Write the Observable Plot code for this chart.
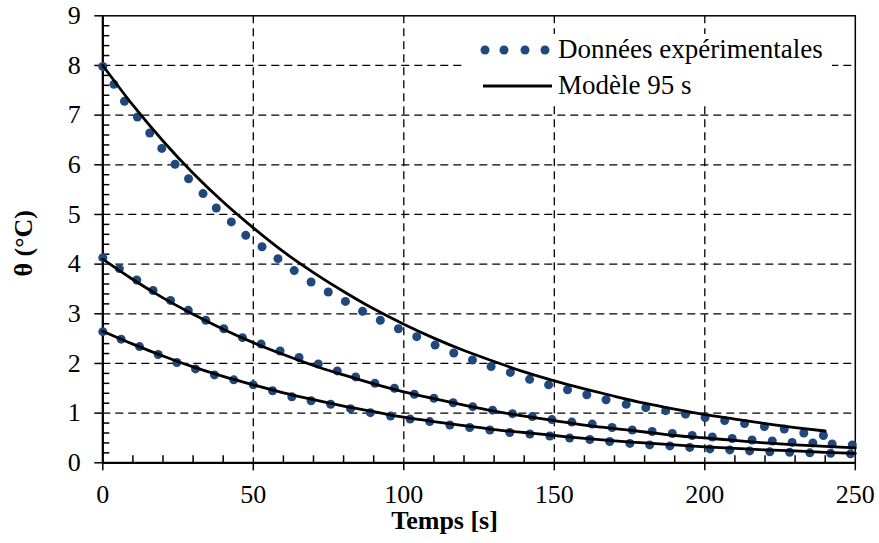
<!DOCTYPE html>
<html>
<head>
<meta charset="utf-8">
<script src="https://cdn.jsdelivr.net/npm/d3@7"></script>
<script src="https://cdn.jsdelivr.net/npm/@observablehq/plot@0.6"></script>
<style>
  html, body { margin: 0; padding: 0; background: white; }
  #wrap { position: relative; width: 879px; height: 543px; }
  #wrap svg text, #legend { font-family: "Liberation Serif", "Times New Roman", Times, Tinos, "DejaVu Serif", "Noto Serif", serif !important; }
  #legend { position: absolute; left: 466px; top: 34px; width: 366px; height: 70px; background: white;
            font-size: 27px; color: black; }
  #legend svg { position: absolute; left: 0; top: 0; }
  #legend .t { position: absolute; left: 92px; white-space: nowrap; line-height: 1; }
</style>
</head>
<body>
<div id="wrap"><div id="legend"></div></div>
<script>
// ---------- data ----------
const xTicks = [0, 50, 100, 150, 200, 250];
const yTicks = [0, 1, 2, 3, 4, 5, 6, 7, 8, 9];
const xLabel = "Temps [s]";
const yLabel = "θ (°C)";
const legendLabels = ["Données expérimentales", "Modèle 95 s"];

// experimental series (top, middle, bottom): time [s] and θ [°C]
const exp1T = [0, 3.7, 7.2, 11.5, 15.6, 19.6, 24.0, 28.5, 33.3, 37.7, 42.7, 47.5, 52.9, 58.2, 63.6, 69.2, 74.9, 80.6, 86.3, 92.2, 98.2, 104.3, 110.4, 116.6, 122.8, 129.0, 135.4, 141.8, 148.1, 154.4, 160.8, 167.2, 173.9, 180.4, 187.0, 193.6, 200.1, 206.6, 213.2, 219.8, 226.4, 232.9, 239.4];
const exp1V = [7.98, 7.62, 7.28, 6.96, 6.64, 6.33, 6.01, 5.72, 5.42, 5.13, 4.85, 4.58, 4.35, 4.11, 3.87, 3.64, 3.44, 3.25, 3.05, 2.87, 2.70, 2.54, 2.37, 2.21, 2.07, 1.94, 1.82, 1.68, 1.57, 1.47, 1.37, 1.27, 1.18, 1.11, 1.05, 0.98, 0.91, 0.85, 0.79, 0.73, 0.68, 0.60, 0.55];
const exp2T = [0, 5.5, 11.3, 16.7, 22.5, 28.4, 34.2, 40.2, 46.4, 52.6, 58.9, 65.2, 71.6, 77.9, 84.0, 90.4, 96.9, 103.5, 110.0, 116.4, 122.9, 129.5, 136.1, 142.7, 149.2, 155.8, 162.6, 169.2, 175.9, 182.5, 189.2, 195.8, 202.5, 209.1, 215.7, 222.4, 229.0, 235.9, 242.3, 249.0];
const exp2V = [4.13, 3.91, 3.68, 3.47, 3.27, 3.07, 2.87, 2.70, 2.52, 2.39, 2.25, 2.12, 1.99, 1.85, 1.73, 1.60, 1.50, 1.38, 1.30, 1.21, 1.13, 1.06, 0.99, 0.93, 0.87, 0.82, 0.78, 0.71, 0.66, 0.63, 0.59, 0.55, 0.52, 0.49, 0.46, 0.44, 0.41, 0.40, 0.38, 0.36];
const exp3T = [0, 6.1, 12.2, 18.4, 24.6, 30.8, 37.1, 43.5, 50.0, 56.4, 62.8, 69.2, 75.7, 82.3, 88.9, 95.6, 102.1, 108.6, 115.3, 121.9, 128.6, 135.2, 141.9, 148.5, 155.1, 161.8, 168.4, 175.1, 181.7, 188.4, 195.0, 201.7, 208.3, 214.9, 221.6, 228.2, 234.9, 241.8, 248.4];
const exp3V = [2.64, 2.49, 2.34, 2.18, 2.02, 1.89, 1.77, 1.67, 1.57, 1.45, 1.33, 1.25, 1.18, 1.09, 1.01, 0.94, 0.88, 0.83, 0.76, 0.71, 0.66, 0.61, 0.58, 0.54, 0.50, 0.47, 0.43, 0.39, 0.36, 0.34, 0.31, 0.28, 0.26, 0.24, 0.22, 0.21, 0.20, 0.19, 0.18];

// model curves ("Modèle 95 s"), sampled every 10 s
const modelT = [0, 10, 20, 30, 40, 50, 60, 70, 80, 90, 100, 110, 120, 130, 140, 150, 160, 170, 180, 190, 200, 210, 220, 230, 240, 250];
const model1V = [8.00, 7.20, 6.48, 5.83, 5.25, 4.73, 4.25, 3.83, 3.45, 3.10, 2.79, 2.51, 2.26, 2.04, 1.83, 1.65, 1.49, 1.34, 1.20, 1.08, 0.97, 0.88, 0.79, 0.71, 0.64];
const model2V = [4.10, 3.69, 3.32, 2.99, 2.69, 2.42, 2.18, 1.96, 1.77, 1.59, 1.43, 1.29, 1.16, 1.04, 0.94, 0.85, 0.76, 0.69, 0.62, 0.55, 0.50, 0.45, 0.40, 0.36, 0.33, 0.30];
const model3V = [2.65, 2.39, 2.15, 1.93, 1.74, 1.57, 1.41, 1.27, 1.14, 1.03, 0.92, 0.83, 0.75, 0.67, 0.61, 0.55, 0.49, 0.44, 0.40, 0.36, 0.32, 0.29, 0.26, 0.24, 0.21, 0.19];

// ---------- build tables ----------
const expData = [
  ...exp1T.map((t, i) => ({t, v: exp1V[i], s: "1"})),
  ...exp2T.map((t, i) => ({t, v: exp2V[i], s: "2"})),
  ...exp3T.map((t, i) => ({t, v: exp3V[i], s: "3"}))
];
const modelData = [
  ...model1V.map((v, i) => ({t: modelT[i], v, s: "1"})),
  ...model2V.map((v, i) => ({t: modelT[i], v, s: "2"})),
  ...model3V.map((v, i) => ({t: modelT[i], v, s: "3"}))
];
const minorX = d3.range(0, 251, 10).filter(d => d % 50 !== 0);
const minorY = d3.range(0, 9.0001, 0.2).map(d => +d.toFixed(1)).filter(d => Math.abs(d - Math.round(d)) > 1e-6);

const W = 879, H = 543;
const mL = 102.3, mR = 24.2, mT = 15.3, mB = 80.7;
const plotW = W - mL - mR, plotH = H - mT - mB;
const blue = "#1F497D";
const font = "'Liberation Serif', 'Times New Roman', Times, Tinos, 'DejaVu Serif', 'Noto Serif', serif";

const chart = Plot.plot({
  width: W, height: H,
  marginLeft: mL, marginRight: mR, marginTop: mT, marginBottom: mB,
  style: {fontFamily: font, fontSize: "26px", background: "white", color: "black"},
  x: {domain: [0, 250]},
  y: {domain: [0, 9]},
  marks: [
    Plot.gridX(xTicks.slice(1, -1), {stroke: "black", strokeOpacity: 1, strokeWidth: 1.3, strokeDasharray: "8,5"}),
    Plot.gridY(yTicks.slice(1, -1), {stroke: "black", strokeOpacity: 1, strokeWidth: 1.3, strokeDasharray: "8,5"}),
    Plot.tickX(minorX, {x: d => d, insetTop: plotH - 7, stroke: "black", strokeWidth: 1.5}),
    Plot.tickY(minorY, {y: d => d, insetRight: plotW - 7, stroke: "black", strokeWidth: 1.5}),
    Plot.axisX(xTicks, {anchor: "bottom", tickSize: 8, tickPadding: 14, fontSize: 26, label: null, strokeWidth: 1.5, tickFormat: d => String(d)}),
    Plot.axisY(yTicks, {anchor: "left", tickSize: 8, tickPadding: 14, fontSize: 26, label: null, strokeWidth: 1.5, tickFormat: d => String(d)}),
    Plot.frame({stroke: "black", strokeWidth: 1.5}),
    Plot.ruleX([0], {stroke: "black", strokeWidth: 2.2}),
    Plot.ruleY([0], {stroke: "black", strokeWidth: 2.2}),
    Plot.dot(expData, {x: "t", y: "v", r: 4.5, fill: blue, stroke: "none"}),
    Plot.line(modelData, {x: "t", y: "v", z: "s", stroke: "black", strokeWidth: 2.8, curve: "monotone-x"}),
    Plot.text([xLabel], {frameAnchor: "bottom", textAnchor: "middle", dx: -34.5, dy: 66, fontWeight: "bold", fontSize: 26, fill: "black"}),
    Plot.text([yLabel], {frameAnchor: "left", textAnchor: "middle", rotate: -90, dx: -79, dy: 4, fontWeight: "bold", fontSize: 26, fill: "black"})
  ]
});
document.getElementById("wrap").prepend(chart);

// ---------- legend overlay ----------
const leg = document.getElementById("legend");
const ns = "http://www.w3.org/2000/svg";
const ls = document.createElementNS(ns, "svg");
ls.setAttribute("width", 366); ls.setAttribute("height", 70);
[19, 38, 59, 79].forEach(cx => {
  const c = document.createElementNS(ns, "circle");
  c.setAttribute("cx", cx); c.setAttribute("cy", 16); c.setAttribute("r", 4.5); c.setAttribute("fill", blue);
  ls.appendChild(c);
});
const ln = document.createElementNS(ns, "line");
ln.setAttribute("x1", 17); ln.setAttribute("x2", 86); ln.setAttribute("y1", 52); ln.setAttribute("y2", 52);
ln.setAttribute("stroke", "black"); ln.setAttribute("stroke-width", 2.8);
ls.appendChild(ln);
leg.appendChild(ls);
legendLabels.forEach((txt, i) => {
  const d = document.createElement("div");
  d.className = "t"; d.textContent = txt;
  d.style.top = (i === 0 ? 2 : 38) + "px";
  leg.appendChild(d);
});
</script>
</body>
</html>
